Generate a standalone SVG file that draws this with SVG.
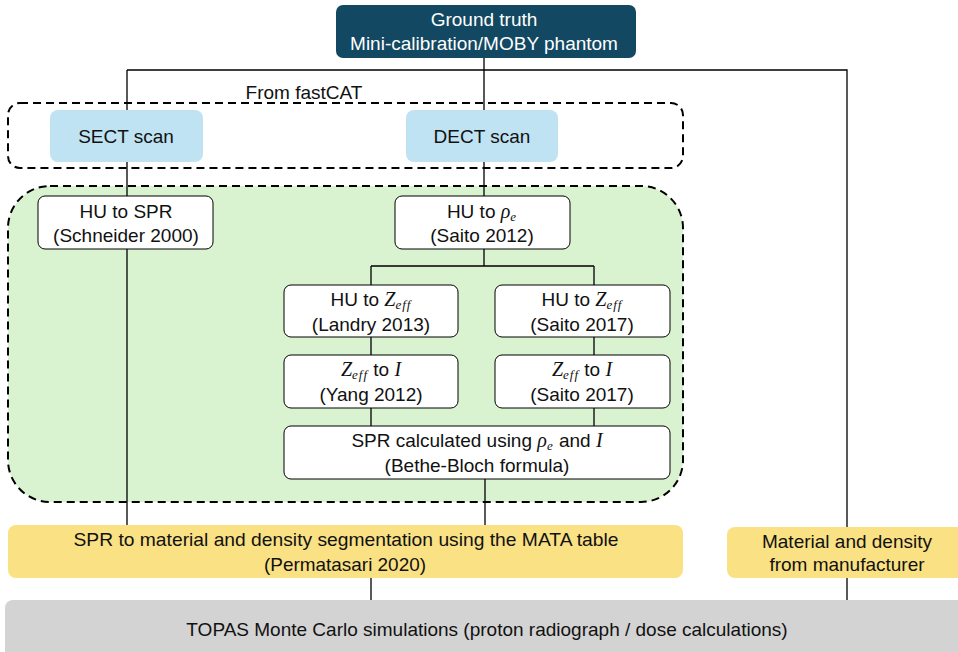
<svg xmlns="http://www.w3.org/2000/svg" width="958" height="652" viewBox="0 0 958 652">
<style>
text{font-family:"Liberation Sans",Arial,sans-serif;font-size:19px;fill:#111;text-anchor:middle}
.m{font-family:"Liberation Serif","DejaVu Serif",serif;font-style:italic;font-size:20px}
.s{font-size:13px;letter-spacing:1px}
.w{fill:#fff}
.box{fill:#fff;stroke:#000;stroke-width:1}
.blue{fill:#c0e3f3}
.yel{fill:#fae183}
.gray{fill:#d3d3d3}
.c{stroke:#000;stroke-width:1.3;fill:none}
.dash{fill:none;stroke:#000;stroke-width:2;stroke-dasharray:8 5}
</style>
<rect x="0" y="0" width="958" height="652" fill="#fff"/>
<g id="green-region">
<rect x="8" y="186" width="675" height="316" rx="42" fill="#d9f2d0"/>
</g>
<g id="connectors">
<path class="c" d="M484 58V196M127 70H847V600M127 70V196M127 249V525M484 249V266M371 266H594M371 266V285M594 266V285M371 337V355M594 337V355M371 408V426M594 408V426M485 479V525M371 578V600"/>
</g>
<g id="fastcat-group">
<rect class="dash" x="8" y="103" width="675" height="65" rx="12"/>
<text x="304" y="99">From fastCAT</text>
</g>
<g id="green-border">
<rect class="dash" x="8" y="186" width="675" height="316" rx="42"/>
</g>
<g id="ground-truth">
<rect x="336" y="5" width="300" height="53" rx="7" fill="#124862"/>
<text class="w" x="484" y="26">Ground truth</text>
<text class="w" x="484" y="50">Mini-calibration/MOBY phantom</text>
</g>
<g id="sect">
<rect class="blue" x="50" y="110" width="153" height="52" rx="8"/>
<text x="126" y="143">SECT scan</text>
</g>
<g id="dect">
<rect class="blue" x="406" y="110" width="152" height="52" rx="8"/>
<text x="482" y="143">DECT scan</text>
</g>
<g id="hu-spr">
<rect class="box" x="38" y="196" width="175" height="53" rx="7"/>
<text x="126" y="218">HU to SPR</text>
<text x="126" y="242">(Schneider 2000)</text>
</g>
<g id="hu-rho">
<rect class="box" x="395" y="196" width="175" height="53" rx="7"/>
<text x="482" y="218">HU to <tspan class="m">ρ</tspan><tspan class="m s" dy="3">e</tspan></text>
<text x="482" y="242">(Saito 2012)</text>
</g>
<g id="hu-zeff-landry">
<rect class="box" x="284" y="285" width="174" height="52" rx="7"/>
<text x="371" y="306">HU to <tspan class="m">Z</tspan><tspan class="m s" dy="3">eff</tspan></text>
<text x="371" y="331">(Landry 2013)</text>
</g>
<g id="hu-zeff-saito">
<rect class="box" x="495" y="285" width="175" height="52" rx="7"/>
<text x="582" y="306">HU to <tspan class="m">Z</tspan><tspan class="m s" dy="3">eff</tspan></text>
<text x="582" y="331">(Saito 2017)</text>
</g>
<g id="zeff-i-yang">
<rect class="box" x="284" y="355" width="174" height="53" rx="7"/>
<text x="371" y="376"><tspan class="m">Z</tspan><tspan class="m s" dy="3">eff</tspan><tspan dy="-3">  to </tspan><tspan class="m">I</tspan></text>
<text x="371" y="401">(Yang 2012)</text>
</g>
<g id="zeff-i-saito">
<rect class="box" x="495" y="355" width="175" height="53" rx="7"/>
<text x="582" y="376"><tspan class="m">Z</tspan><tspan class="m s" dy="3">eff</tspan><tspan dy="-3">  to </tspan><tspan class="m">I</tspan></text>
<text x="582" y="401">(Saito 2017)</text>
</g>
<g id="spr-calc">
<rect class="box" x="284" y="426" width="386" height="53" rx="7"/>
<text x="477" y="447">SPR calculated using <tspan class="m">ρ</tspan><tspan class="m s" dy="3">e</tspan><tspan dy="-3"> and </tspan><tspan class="m">I</tspan></text>
<text x="477" y="472">(Bethe-Bloch formula)</text>
</g>
<g id="mata">
<rect class="yel" x="8" y="525" width="675" height="53" rx="8"/>
<text x="346" y="546" textLength="545" lengthAdjust="spacingAndGlyphs">SPR to material and density segmentation using the MATA table</text>
<text x="345" y="571" textLength="162" lengthAdjust="spacingAndGlyphs">(Permatasari 2020)</text>
</g>
<g id="manufacturer">
<rect class="yel" x="727" y="527" width="240" height="51" rx="8"/>
<text x="847" y="548">Material and density</text>
<text x="847" y="571">from manufacturer</text>
</g>
<g id="topas">
<rect class="gray" x="5" y="600" width="965" height="60" rx="8"/>
<text x="487" y="636">TOPAS Monte Carlo simulations (proton radiograph / dose calculations)</text>
</g>
</svg>
